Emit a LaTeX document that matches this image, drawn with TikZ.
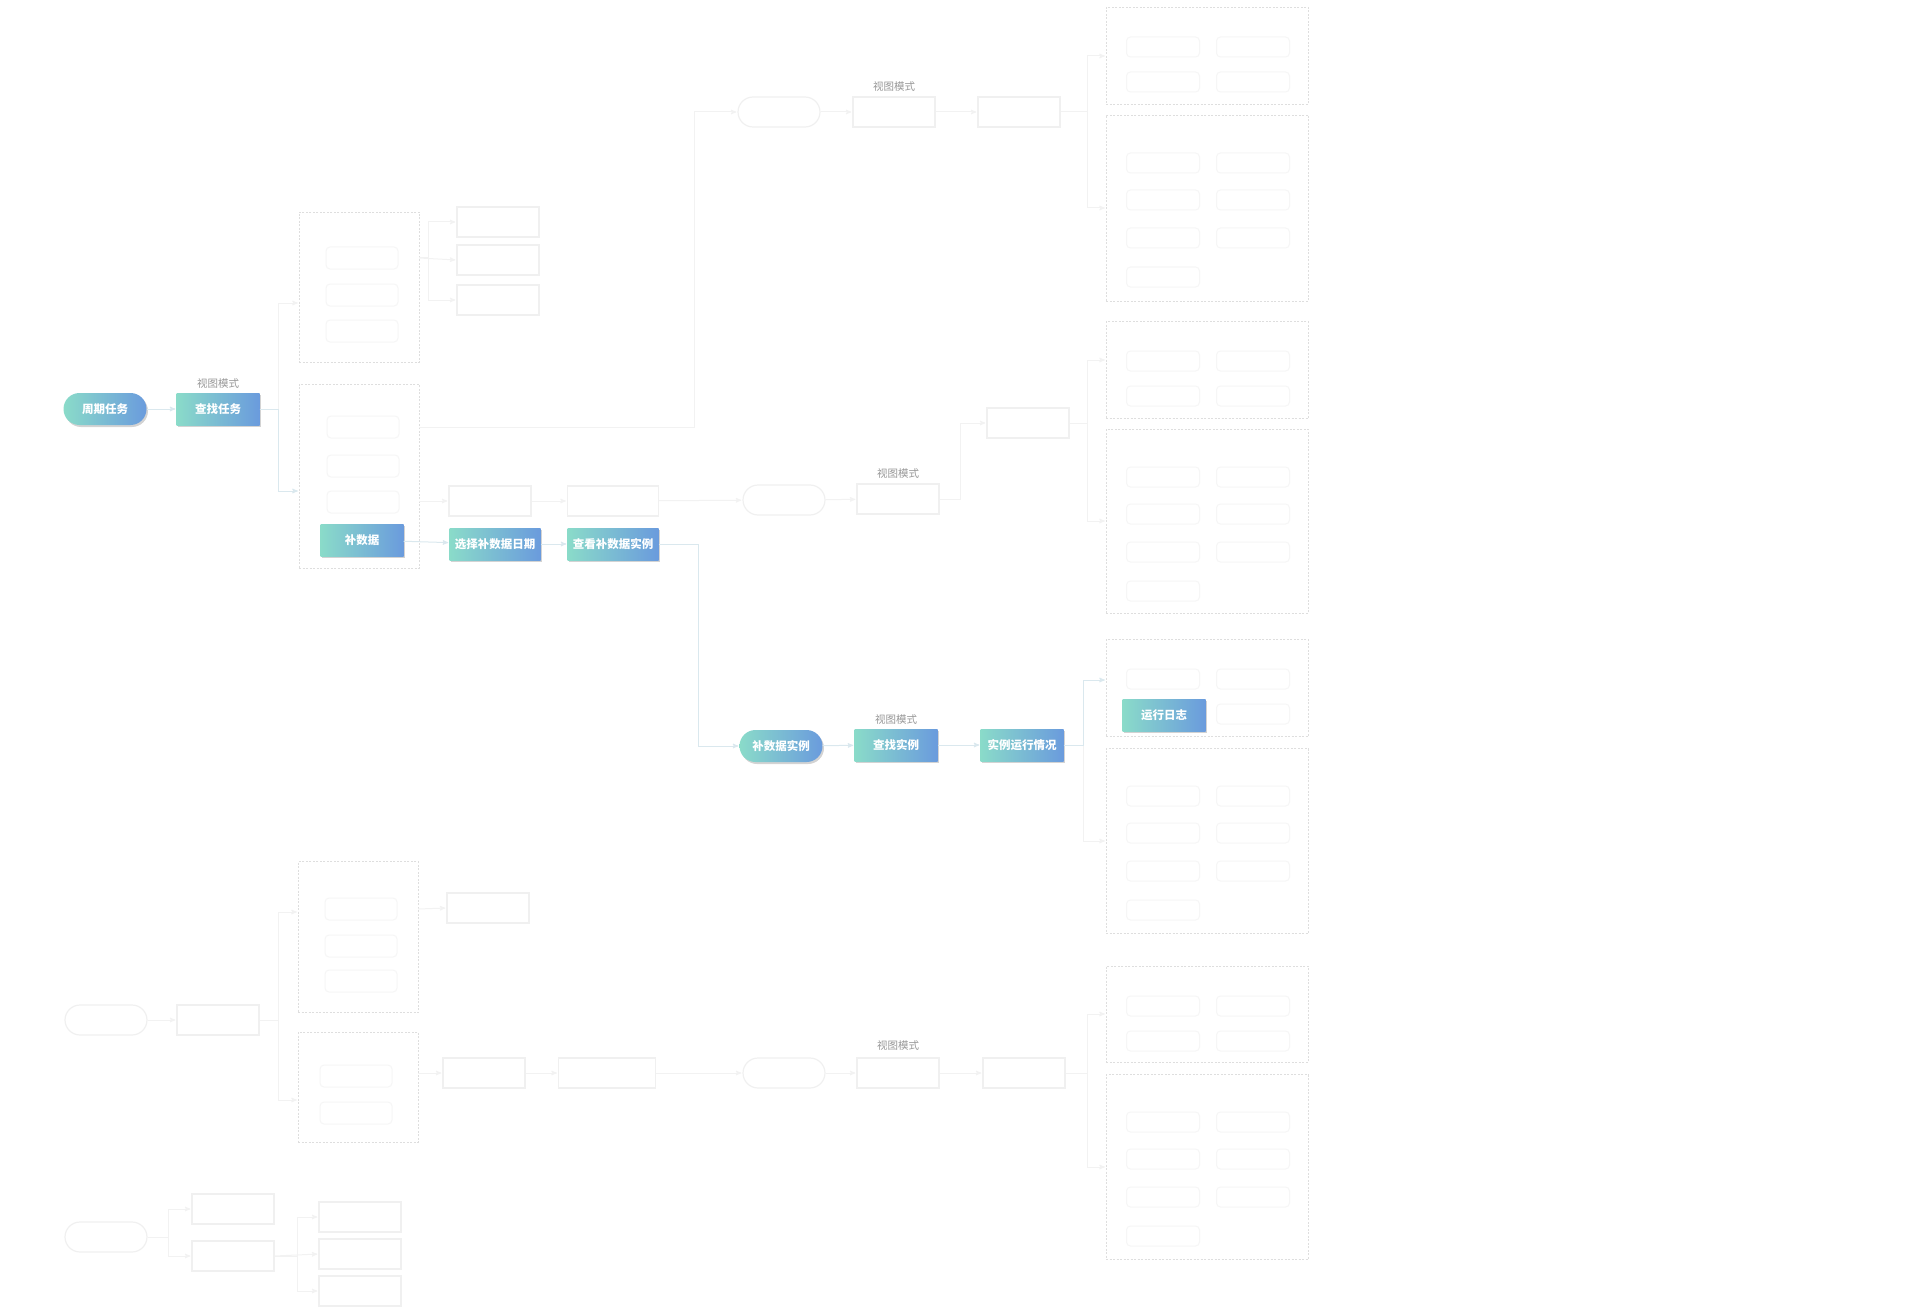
\documentclass[tikz,border=0pt]{standalone}
\usepackage{fontspec}
\setmainfont{Noto Sans CJK SC}
\usepackage{tikz}
\usetikzlibrary{
    arrows,
    shadows
}
\definecolor{hlL}{RGB}{138,219,201}
\definecolor{hlR}{RGB}{106,155,221}
\definecolor{hlLine}{RGB}{218,232,238}
\definecolor{lblGray}{RGB}{150,150,150}

\begin{document}
\begin{tikzpicture}[x=1pt,y=-1pt,>=stealth',font=\fontsize{11}{13}\selectfont]
    \tikzstyle{hbox}=[rectangle, minimum width=83pt, minimum height=32pt, inner sep=2pt,
        left color=hlL, right color=hlR, text=white, font=\fontsize{11.5}{13}\selectfont\bfseries,
        drop shadow={shadow xshift=1.5pt, shadow yshift=-2pt, opacity=.35}]
    \tikzstyle{hpill}=[hbox, rounded corners=16pt]
    \tikzstyle{fbox}=[rectangle, draw=black!6, line width=1.2pt, fill=white, minimum width=82pt, minimum height=30pt]
    \tikzstyle{fpill}=[fbox, rounded corners=15pt]
    \tikzstyle{fgrp}=[rectangle, draw=black!13, dash pattern=on 2pt off 1.5pt, fill=white, minimum width=202pt]
    \tikzstyle{lgrp}=[fgrp, minimum width=120pt]
    \tikzstyle{cell}=[rectangle, rounded corners=4pt, draw=black!3.5, line width=1pt, minimum width=73pt, minimum height=20pt]
    \tikzstyle{lbl}=[text=lblGray, font=\fontsize{10.5}{12}\selectfont]
    \tikzstyle{hl}=[draw=hlLine, line width=1pt, ->, shorten >=1pt]
    \tikzstyle{fl}=[draw=black!5, line width=1pt, ->, shorten >=1pt]

    % groups on the left
    \node[lgrp, minimum height=150pt] (g1) at (359,287) {};
    \node[cell, minimum width=72pt, minimum height=22pt] (g1a) at (362,258) {};
    \node[cell, minimum width=72pt, minimum height=22pt] (g1b) at (362,295) {};
    \node[cell, minimum width=72pt, minimum height=22pt] (g1c) at (362,331) {};
    \node[lgrp, minimum height=184pt] (g2) at (359,476) {};
    \node[cell, minimum width=72pt, minimum height=22pt] (g2a) at (363,427) {};
    \node[cell, minimum width=72pt, minimum height=22pt] (g2b) at (363,466) {};
    \node[cell, minimum width=72pt, minimum height=22pt] (g2c) at (363,502) {};
    \node[lgrp, minimum height=151pt] (g3) at (358,937) {};
    \node[cell, minimum width=72pt, minimum height=22pt] (g3a) at (361,909) {};
    \node[cell, minimum width=72pt, minimum height=22pt] (g3b) at (361,946) {};
    \node[cell, minimum width=72pt, minimum height=22pt] (g3c) at (361,981) {};
    \node[lgrp, minimum height=110pt] (g4) at (358,1087) {};
    \node[cell, minimum width=72pt, minimum height=22pt] (g4a) at (356,1076) {};
    \node[cell, minimum width=72pt, minimum height=22pt] (g4b) at (356,1113) {};

    % groups on the right
    \node[fgrp, minimum height=97pt] (r1) at (1207,56) {};
    \node[cell] (r1a) at (1163,47) {};
    \node[cell] (r1b) at (1253,47) {};
    \node[cell] (r1c) at (1163,82) {};
    \node[cell] (r1d) at (1253,82) {};
    \node[fgrp, minimum height=186pt] (r2) at (1207,208) {};
    \node[cell] (r2a) at (1163,163) {};
    \node[cell] (r2b) at (1253,163) {};
    \node[cell] (r2c) at (1163,200) {};
    \node[cell] (r2d) at (1253,200) {};
    \node[cell] (r2e) at (1163,238) {};
    \node[cell] (r2f) at (1253,238) {};
    \node[cell] (r2g) at (1163,277) {};
    \node[fgrp, minimum height=97pt] (r3) at (1207,370) {};
    \node[cell] (r3a) at (1163,361) {};
    \node[cell] (r3b) at (1253,361) {};
    \node[cell] (r3c) at (1163,396) {};
    \node[cell] (r3d) at (1253,396) {};
    \node[fgrp, minimum height=184pt] (r4) at (1207,521) {};
    \node[cell] (r4a) at (1163,477) {};
    \node[cell] (r4b) at (1253,477) {};
    \node[cell] (r4c) at (1163,514) {};
    \node[cell] (r4d) at (1253,514) {};
    \node[cell] (r4e) at (1163,552) {};
    \node[cell] (r4f) at (1253,552) {};
    \node[cell] (r4g) at (1163,591) {};
    \node[fgrp, minimum height=97pt] (r5) at (1207,688) {};
    \node[cell] (r5a) at (1163,679) {};
    \node[cell] (r5b) at (1253,679) {};
    \node[cell] (r5d) at (1253,714) {};
    \node[fgrp, minimum height=185pt] (r6) at (1207,841) {};
    \node[cell] (r6a) at (1163,796) {};
    \node[cell] (r6b) at (1253,796) {};
    \node[cell] (r6c) at (1163,833) {};
    \node[cell] (r6d) at (1253,833) {};
    \node[cell] (r6e) at (1163,871) {};
    \node[cell] (r6f) at (1253,871) {};
    \node[cell] (r6g) at (1163,910) {};
    \node[fgrp, minimum height=96pt] (r7) at (1207,1014) {};
    \node[cell] (r7a) at (1163,1006) {};
    \node[cell] (r7b) at (1253,1006) {};
    \node[cell] (r7c) at (1163,1041) {};
    \node[cell] (r7d) at (1253,1041) {};
    \node[fgrp, minimum height=185pt] (r8) at (1207,1167) {};
    \node[cell] (r8a) at (1163,1122) {};
    \node[cell] (r8b) at (1253,1122) {};
    \node[cell] (r8c) at (1163,1159) {};
    \node[cell] (r8d) at (1253,1159) {};
    \node[cell] (r8e) at (1163,1197) {};
    \node[cell] (r8f) at (1253,1197) {};
    \node[cell] (r8g) at (1163,1236) {};

    % faded boxes
    \node[fbox] (g1r1) at (498,222) {};
    \node[fbox] (g1r2) at (498,260) {};
    \node[fbox] (g1r3) at (498,300) {};
    \node[fbox] (mr1) at (490,501) {};
    \node[fbox, minimum width=91pt] (mr2) at (613,501) {};
    \node[fpill] (mp) at (784,500) {};
    \node[lbl] (v2) at (898,474) {视图模式};
    \node[fbox] (mb1) at (898,499) {};
    \node[fbox] (mb2) at (1028,423) {};
    \node[fpill] (tp) at (779,112) {};
    \node[lbl] (v0) at (894,87) {视图模式};
    \node[fbox] (tb1) at (894,112) {};
    \node[fbox] (tb2) at (1019,112) {};
    \node[fpill] (bp) at (106,1020) {};
    \node[fbox] (bb) at (218,1020) {};
    \node[fbox] (g3r) at (488,908) {};
    \node[fbox] (g4r1) at (484,1073) {};
    \node[fbox, minimum width=97pt] (g4r2) at (607,1073) {};
    \node[fpill] (bp2) at (784,1073) {};
    \node[lbl] (v4) at (898,1046) {视图模式};
    \node[fbox] (bb1) at (898,1073) {};
    \node[fbox] (bb2) at (1024,1073) {};
    \node[fpill] (zp) at (106,1237) {};
    \node[fbox] (zb1) at (233,1209) {};
    \node[fbox] (zb2) at (233,1256) {};
    \node[fbox] (zc1) at (360,1217) {};
    \node[fbox] (zc2) at (360,1254) {};
    \node[fbox] (zc3) at (360,1291) {};

    % highlighted path
    \node[hpill] (zq) at (105,409) {周期任务};
    \node[lbl] (v1) at (218,384) {视图模式};
    \node[hbox] (cz) at (218,409) {查找任务};
    \node[hbox] (bsj) at (362,540) {补数据};
    \node[hbox, minimum width=91pt] (xzrq) at (495,544) {选择补数据日期};
    \node[hbox, minimum width=91pt] (cksl) at (613,544) {查看补数据实例};
    \node[hpill] (bsl) at (781,746) {补数据实例};
    \node[lbl] (v3) at (896,720) {视图模式};
    \node[hbox] (czsl) at (896,745) {查找实例};
    \node[hbox] (yxqk) at (1022,745) {实例运行情况};
    \node[hbox] (yxrz) at (1164,715) {运行日志};

    % faded connectors
    \draw[fl] (cz.east) -- ++(19,0) |- ([yshift=-16pt]g1.west);
    \draw[fl] (g1.east|-g1a) -- ++(9,0) |- (g1r1.west);
    \draw[fl] (g1.east|-g1a) -- (g1r2.west);
    \draw[fl] (g1.east|-g1a) -- ++(9,0) |- (g1r3.west);
    \draw[fl] (g2.east|-g2a) -| ([xshift=-43pt]tp.west) -- (tp.west);
    \draw[fl] (tp) -- (tb1);
    \draw[fl] (tb1) -- (tb2);
    \draw[fl] (tb2.east) -- ++(27,0) |- (r1.west);
    \draw[fl] (tb2.east) -- ++(27,0) |- (r2.west);
    \draw[fl] (g2.east|-mr1) -- (mr1.west);
    \draw[fl] (mr1) -- (mr2);
    \draw[fl] (mr2) -- (mp);
    \draw[fl] (mp) -- (mb1);
    \draw[fl] (mb1.east) -- ++(21,0) |- (mb2.west);
    \draw[fl] (mb2.east) -- ++(18,0) |- ([yshift=10pt]r3.west);
    \draw[fl] (mb2.east) -- ++(18,0) |- (r4.west);
    \draw[fl] (yxqk.east) -- ++(20,0) |- (r6.west);
    \draw[fl] (bp) -- (bb);
    \draw[fl] (bb.east) -- ++(19,0) |- ([yshift=25pt]g3.west);
    \draw[fl] (bb.east) -- ++(19,0) |- ([yshift=-13pt]g4.west);
    \draw[fl] (g3.east|-g3a) -- (g3r.west);
    \draw[fl] (g4.east|-g4r1) -- (g4r1.west);
    \draw[fl] (g4r1) -- (g4r2);
    \draw[fl] (g4r2) -- (bp2);
    \draw[fl] (bp2) -- (bb1);
    \draw[fl] (bb1) -- (bb2);
    \draw[fl] (bb2.east) -- ++(22,0) |- (r7.west);
    \draw[fl] (bb2.east) -- ++(22,0) |- (r8.west);
    \draw[fl] (zp.east) -- ++(21,0) |- (zb1.west);
    \draw[fl] (zp.east) -- ++(21,0) |- (zb2.west);
    \draw[fl] (zb2.east) -- ++(23,0) |- (zc1.west);
    \draw[fl] (zb2.east) -- (zc2.west);
    \draw[fl] (zb2.east) -- ++(23,0) |- (zc3.west);

    % highlighted connectors
    \draw[hl] (zq) -- (cz);
    \draw[hl] (cz.east) -- ++(19,0) |- ([yshift=-15pt]g2.west);
    \draw[hl] (bsj) -- (xzrq);
    \draw[hl] (xzrq) -- (cksl);
    \draw[hl] (cksl.east) -- ++(40,0) |- (bsl.west);
    \draw[hl] (bsl) -- (czsl);
    \draw[hl] (czsl) -- (yxqk);
    \draw[hl] (yxqk.east) -- ++(20,0) |- ([yshift=8pt]r5.west);

    \useasboundingbox (0,0) rectangle (1920,1316);
\end{tikzpicture}
\end{document}
